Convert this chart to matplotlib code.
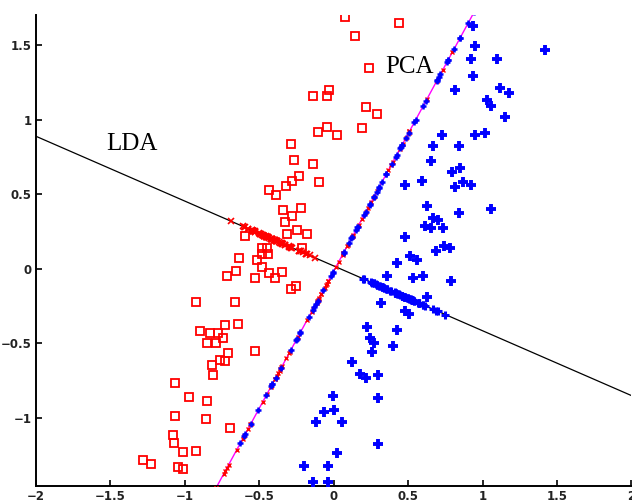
import numpy as np
import matplotlib
matplotlib.use("Agg")
import matplotlib.pyplot as plt

# class 1 (red squares)
red_x = [0.077, 0.442, 0.141, 0.240, -0.030, -0.136, -0.042, 0.214, 0.292, -0.047,
         -0.108, 0.188, 0.024, -0.286, -0.264, -0.136, -0.232, -0.279, -0.319, -0.096,
         -0.434, -0.389, -0.338, -0.221, -0.281, -0.326, -0.247, -0.311, -0.180, -0.595,
         -0.485, -0.445, -0.479, -0.442, -0.214, -0.633, -0.512, -0.483, -0.656, -0.714,
         -0.526, -0.432, -0.395, -0.350, -0.286, -0.252, -0.924, -0.662, -0.640, -0.897,
         -0.830, -0.774, -0.729, -0.848, -0.790, -0.741, -0.528, -0.712, -0.763, -0.729,
         -0.817, -0.808, -1.066, -0.972, -0.850, -1.066, -0.857, -0.696, -1.077, -1.072,
         -1.014, -0.927, -1.278, -1.226, -1.049, -1.015]
red_y = [1.686, 1.646, 1.557, 1.347, 1.201, 1.161, 1.161, 1.081, 1.038, 0.953,
         0.918, 0.940, 0.893, 0.837, 0.729, 0.705, 0.624, 0.586, 0.557, 0.582,
         0.530, 0.495, 0.392, 0.408, 0.351, 0.314, 0.262, 0.235, 0.235, 0.217,
         0.139, 0.139, 0.099, 0.099, 0.139, 0.072, 0.060, 0.011, -0.013, -0.052,
         -0.063, -0.029, -0.063, -0.025, -0.134, -0.119, -0.226, -0.226, -0.369, -0.416,
         -0.432, -0.432, -0.376, -0.495, -0.495, -0.465, -0.550, -0.566, -0.611, -0.617,
         -0.644, -0.711, -0.765, -0.859, -0.886, -0.987, -1.010, -1.070, -1.114, -1.168,
         -1.228, -1.225, -1.282, -1.311, -1.329, -1.345]

# class 2 (blue crosses)
blue_x = [0.936, 0.947, 0.923, 1.097, 1.417, 0.936, 0.812, 1.120, 1.180, 1.030,
          1.057, 1.148, 0.731, 0.947, 1.014, 0.667, 0.839, 0.654, 0.794, 0.850,
          0.476, 0.593, 0.812, 0.866, 0.922, 1.057, 0.626, 0.839, 0.667, 0.704,
          0.615, 0.654, 0.734, 0.476, 0.743, 0.779, 0.689, 0.515, 0.563, 0.425,
          0.530, 0.600, 0.788, 0.355, 0.624, 0.319, 0.481, 0.503, 0.223, 0.422,
          0.245, 0.269, 0.257, 0.398, 0.122, 0.178, 0.220, 0.301, 0.299, -0.008,
          -0.063, 0.005, -0.116, 0.058, 0.299, 0.022, -0.197, -0.037, -0.141, -0.035]
blue_y = [1.626, 1.491, 1.409, 1.409, 1.463, 1.290, 1.196, 1.212, 1.178, 1.134,
          1.094, 1.018, 0.899, 0.899, 0.911, 0.821, 0.821, 0.720, 0.646, 0.676,
          0.564, 0.591, 0.549, 0.580, 0.564, 0.400, 0.418, 0.374, 0.340, 0.329,
          0.289, 0.273, 0.273, 0.210, 0.154, 0.139, 0.121, 0.083, 0.060, 0.038,
          -0.063, -0.047, -0.085, -0.050, -0.188, -0.231, -0.287, -0.302, -0.393, -0.409,
          -0.465, -0.500, -0.557, -0.520, -0.624, -0.705, -0.734, -0.711, -0.866, -0.852,
          -0.962, -0.946, -1.029, -1.029, -1.176, -1.237, -1.326, -1.326, -1.433, -1.431]

# the two projection directions, through the common centre
centre = (0.015, 0.012)
lda_slope = -0.4345
pca_slope = 1.84

x_ticks = [-2, -1.5, -1, -0.5, 0, 0.5, 1, 1.5, 2]
y_ticks = [-1, -0.5, 0, 0.5, 1, 1.5]


def project(xs, ys, slope):
    d = np.array([1.0, slope]) / np.hypot(1.0, slope)
    px = np.asarray(xs) - centre[0]
    py = np.asarray(ys) - centre[1]
    t = px * d[0] + py * d[1]
    return centre[0] + t * d[0], centre[1] + t * d[1]


fig = plt.figure(figsize=(6.32, 5.04), dpi=100)
ax = fig.add_axes([0.057, 0.036, 0.942, 0.934])

xl = np.array([-2.5, 2.5])
ax.plot(xl, centre[1] + lda_slope * (xl - centre[0]), color="black", lw=0.9, zorder=2)
ax.plot(xl, centre[1] + pca_slope * (xl - centre[0]), color="magenta", lw=1.0, zorder=2)

# projections onto LDA line
rx, ry = project(red_x, red_y, lda_slope)
bx, by = project(blue_x, blue_y, lda_slope)
ax.plot(rx, ry, "x", color="red", ms=4, mew=1.2, zorder=3)
ax.plot(bx, by, "+", color="blue", ms=6, mew=2.2, zorder=3)

# projections onto PCA line
rx, ry = project(red_x, red_y, pca_slope)
bx, by = project(blue_x, blue_y, pca_slope)
ax.plot(rx, ry, "x", color="red", ms=3.5, mew=1.0, zorder=3)
ax.plot(bx, by, "+", color="blue", ms=5, mew=1.8, zorder=3)

ax.plot(red_x, red_y, "s", mfc="none", mec="red", ms=5.3, mew=1.3, zorder=4)
ax.plot(blue_x, blue_y, "+", color="blue", ms=7.5, mew=2.8, zorder=4)

ax.text(-1.355, 0.839, "LDA", family="Liberation Serif", fontsize=18,
        ha="center", va="center")
ax.text(0.508, 1.349, "PCA", family="Liberation Serif", fontsize=18,
        ha="center", va="center")

ax.set_xlim(-2, 2)
ax.set_ylim(-1.456, 1.70)
ax.set_xticks(x_ticks)
ax.set_xticklabels(["\u22122", "\u22121.5", "\u22121", "\u22120.5", "0", "0.5", "1", "1.5", "2"])
ax.set_yticks(y_ticks)
ax.set_yticklabels(["\u22121", "\u22120.5", "0", "0.5", "1", "1.5"])
for s in ("top", "right"):
    ax.spines[s].set_visible(False)
for s in ("left", "bottom"):
    ax.spines[s].set_linewidth(1.4)
ax.tick_params(direction="in", length=4, width=1.2, pad=3)
for lab in ax.get_xticklabels() + ax.get_yticklabels():
    lab.set_fontsize(8.5)
    lab.set_fontweight("bold")
    lab.set_color("#222222")

fig.savefig("out.png", dpi=100)
